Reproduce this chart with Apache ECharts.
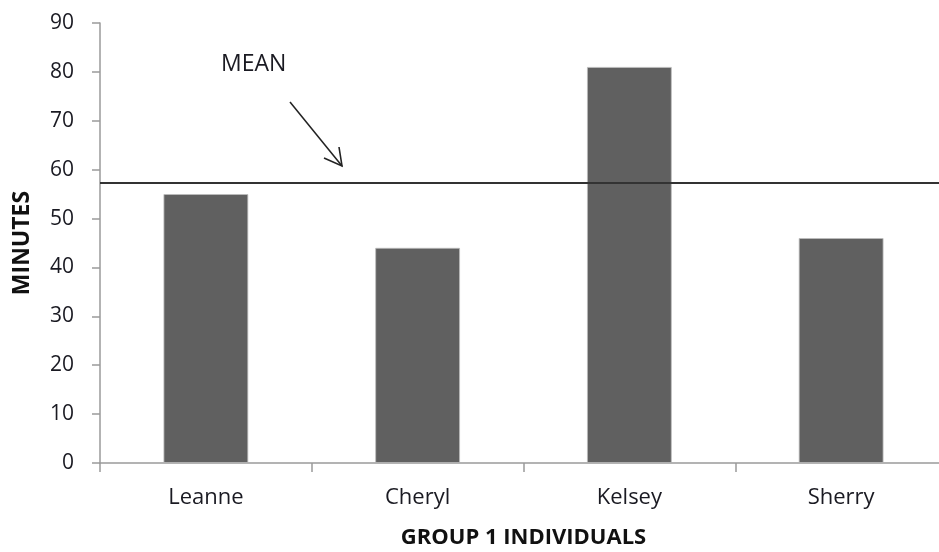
<!DOCTYPE html>
<html>
<head>
<meta charset="utf-8">
<script src="https://cdn.jsdelivr.net/npm/echarts@6/dist/echarts.min.js"></script>
<style>
  html, body { margin: 0; padding: 0; background: #fff; }
  #chart { width: 939px; height: 552px; }
</style>
</head>
<body>
<div id="chart"></div>
<script>
// Minutes per person in group 1
const individuals = ['Leanne', 'Cheryl', 'Kelsey', 'Sherry'];
const minutes = [55, 44, 81, 46];
const meanLevel = [57.3];
const yTicks = [0, 10, 20, 30, 40, 50, 60, 70, 80, 90];

const FONT = '"Open Sans", Lato, sans-serif';
const TEXT = '#1a1a22';
const chart = echarts.init(document.getElementById('chart'));

chart.setOption({
  animation: false,
  backgroundColor: '#ffffff',
  grid: {
    left: 100, width: 847, top: 23, height: 440,
    containLabel: false,
    outerBoundsMode: 'none'
  },
  xAxis: {
    type: 'category',
    data: individuals,
    name: 'GROUP 1 INDIVIDUALS',
    nameLocation: 'middle',
    nameGap: 64,
    nameTextStyle: { fontFamily: FONT, fontWeight: 'bold', fontSize: 22, color: '#111' },
    axisLine: { lineStyle: { color: '#9a9a9a', width: 1.5 } },
    axisTick: { show: true, length: 9, alignWithLabel: false, lineStyle: { color: '#9a9a9a', width: 1.5 } },
    axisLabel: { fontFamily: FONT, fontSize: 22, color: TEXT, margin: 24 }
  },
  yAxis: {
    type: 'value',
    min: yTicks[0],
    max: yTicks[yTicks.length - 1],
    interval: 10,
    name: 'MINUTES',
    nameLocation: 'middle',
    nameGap: 66,
    nameRotate: 90,
    nameTextStyle: { fontFamily: FONT, fontWeight: 'bold', fontSize: 23, color: '#111' },
    axisLine: { show: true, lineStyle: { color: '#9a9a9a', width: 1.5 } },
    axisTick: { show: true, length: 8, lineStyle: { color: '#9a9a9a', width: 1.5 } },
    splitLine: { show: false },
    axisLabel: { fontFamily: FONT, fontSize: 21, color: TEXT, margin: 26 }
  },
  series: [{
    type: 'bar',
    data: minutes,
    barWidth: '40%',
    itemStyle: { color: '#606060', borderColor: '#bdbdbd', borderWidth: 0.8 },
    markLine: {
      silent: true,
      symbol: 'none',
      label: { show: false },
      lineStyle: { color: '#333333', width: 2, type: 'solid' },
      data: [{ yAxis: meanLevel[0] }]
    }
  }],
  graphic: [
    {
      type: 'text',
      left: 221, top: 53,
      style: { text: 'MEAN', font: '23px ' + FONT, fill: TEXT }
    },
    {
      type: 'line',
      shape: { x1: 290, y1: 102, x2: 342, y2: 166 },
      style: { stroke: '#222', lineWidth: 1.6 }
    },
    {
      type: 'polyline',
      shape: { points: [[324, 158], [342, 166], [339, 147]] },
      style: { stroke: '#222', lineWidth: 1.6, fill: null }
    }
  ]
});
</script>
</body>
</html>
